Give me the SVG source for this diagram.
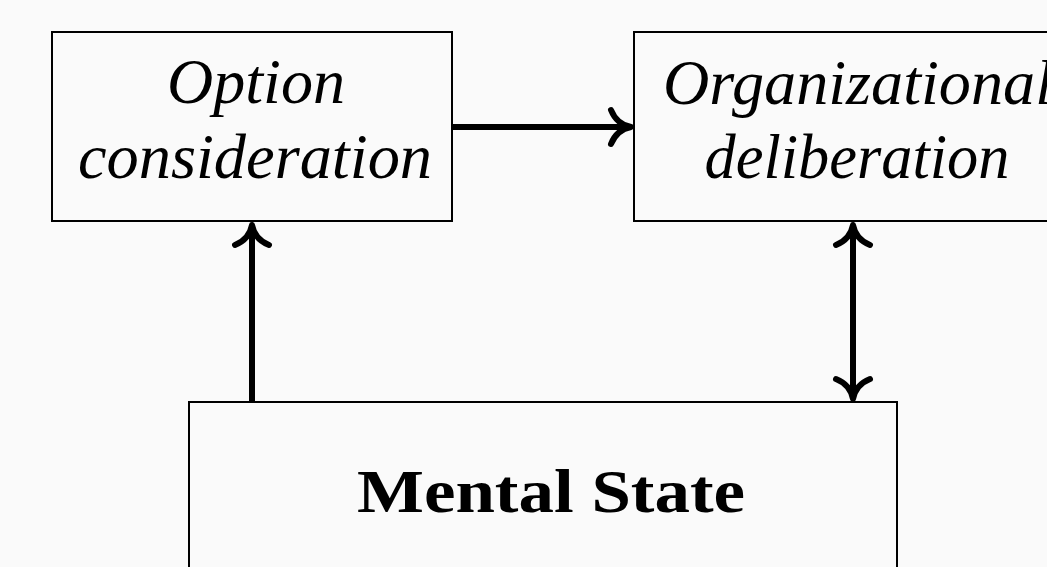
<svg xmlns="http://www.w3.org/2000/svg" width="1047" height="567" viewBox="0 0 1047 567">
<style>
.box{fill:#fafafa;stroke:#000;stroke-width:2}
.it{font-family:"Liberation Serif","DejaVu Serif",serif;font-style:italic;font-size:64px;fill:#000}
.bf{font-family:"Liberation Serif","DejaVu Serif",serif;font-weight:bold;font-size:62px;fill:#000}
.shaft{stroke:#000;stroke-width:6;fill:none}
.head{stroke:#000;stroke-width:6;fill:none;stroke-linecap:round;stroke-linejoin:round}
</style>
<defs>
<marker id="to" markerUnits="userSpaceOnUse" viewBox="-26 -22 30 44" refX="0" refY="0" markerWidth="30" markerHeight="44" orient="auto-start-reverse" overflow="visible">
<path class="head" d="M-20,-17 C-16,-7 -8,-1.5 0,0 C-8,1.5 -16,7 -20,17"/>
</marker>
</defs>
<rect x="0" y="0" width="1047" height="567" fill="#fafafa"/>
<g id="option">
<rect class="box" x="52" y="32" width="400" height="189"/>
<text class="it" x="256" y="103" text-anchor="middle" textLength="178" lengthAdjust="spacingAndGlyphs">Option</text>
<text class="it" x="255" y="178" text-anchor="middle" textLength="354" lengthAdjust="spacingAndGlyphs">consideration</text>
</g>
<g id="organizational">
<rect class="box" x="634" y="32" width="440" height="189"/>
<text class="it" x="663" y="104" textLength="390" lengthAdjust="spacingAndGlyphs">Organizational</text>
<text class="it" x="857" y="178" text-anchor="middle" textLength="305" lengthAdjust="spacingAndGlyphs">deliberation</text>
</g>
<g id="mental">
<rect class="box" x="189" y="402" width="708" height="200"/>
<text class="bf" x="551" y="512" text-anchor="middle" textLength="388" lengthAdjust="spacingAndGlyphs">Mental State</text>
</g>
<g id="connectors">
<path class="shaft" d="M453,127 L631,127" marker-end="url(#to)"/>
<path class="shaft" d="M252,401 L252,225" marker-end="url(#to)"/>
<path class="shaft" d="M853,225 L853,399" marker-start="url(#to)" marker-end="url(#to)"/>
</g>
</svg>
